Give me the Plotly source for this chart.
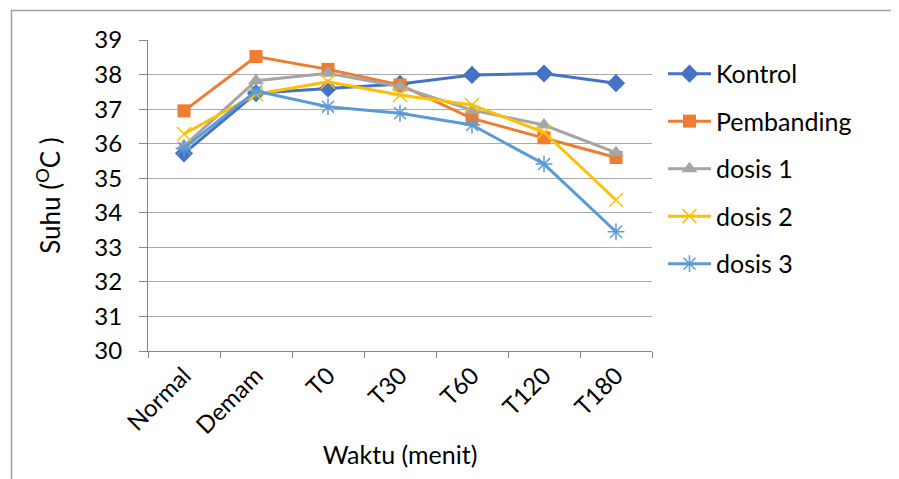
import plotly.graph_objects as go

categories = ["Normal", "Demam", "T0", "T30", "T60", "T120", "T180"]
kontrol = [35.72, 37.46, 37.6, 37.73, 37.99, 38.03, 37.75]
pembanding = [36.95, 38.52, 38.15, 37.7, 36.73, 36.17, 35.6]
dosis1 = [35.93, 37.82, 38.04, 37.65, 36.97, 36.54, 35.74]
dosis2 = [36.28, 37.43, 37.79, 37.41, 37.12, 36.33, 34.37]
dosis3 = [35.87, 37.52, 37.07, 36.88, 36.54, 35.41, 33.45]
y_ticks = list(range(30, 40))

series = [
    ("Kontrol", kontrol, "#4472C4", dict(symbol="diamond", size=14)),
    ("Pembanding", pembanding, "#ED7D31", dict(symbol="square", size=13)),
    ("dosis 1", dosis1, "#A5A5A5", dict(symbol="triangle-up", size=14)),
    ("dosis 2", dosis2, "#FFC000", dict(symbol="x-thin-open", size=14, line=dict(width=1.5, color="#FFC000"))),
    ("dosis 3", dosis3, "#5B9BD5", dict(symbol="asterisk-open", size=14, line=dict(width=1.5, color="#5B9BD5"))),
]

fig = go.Figure()
for name, vals, col, mk in series:
    m = dict(color=col, **mk)
    fig.add_trace(go.Scatter(x=categories, y=vals, name=name, mode="lines+markers",
                             line=dict(color=col, width=3), marker=m, legendgroup=name))

font = "Lato, Carlito, 'Open Sans', sans-serif"
# page body has an 8px offset; margins compensate so the plot area sits at x 148-652, y 40-351
fig.update_layout(
    width=899, height=479,
    margin=dict(l=140, r=255, t=32, b=136),
    paper_bgcolor="white", plot_bgcolor="white",
    font=dict(family=font, size=24, color="#000000"),
    showlegend=True,
    legend=dict(x=(663-148)/504, y=0.965, xanchor="left", yanchor="top",
                font=dict(size=25, family=font), tracegroupgap=12,
                itemwidth=43, bgcolor="rgba(0,0,0,0)"),
    xaxis=dict(type="category", range=[-0.5, 6.5], tickson="boundaries",
               ticks="outside", ticklen=6, tickcolor="#868686",
               showline=True, linecolor="#868686", linewidth=1.2,
               showgrid=False, tickangle=-45,
               tickfont=dict(size=24),
               title=dict(text="Waktu (menit)", font=dict(size=25), standoff=8)),
    yaxis=dict(range=[30, 39], tickvals=y_ticks, ticks="outside", ticklen=8,
               tickcolor="#868686", showline=True, linecolor="#868686", linewidth=1.2,
               showgrid=True, gridcolor="#ABABAB", gridwidth=1.2, zeroline=False,
               tickfont=dict(size=24), ticklabelstandoff=12,
               title=dict(text="Suhu (<sup>O</sup>C )", font=dict(size=26), standoff=26)),
)

border = "#A0A0A0"
fig.add_shape(type="line", xref="paper", yref="paper", x0=(11-148)/504, x1=(899-148)/504,
              y0=1+(40-10.5)/311, y1=1+(40-10.5)/311, line=dict(color=border, width=1.5))
fig.add_shape(type="line", xref="paper", yref="paper", x0=(11.5-148)/504, x1=(11.5-148)/504,
              y0=1+(40-10)/311, y1=-(479-351)/311, line=dict(color=border, width=1.5))

fig.write_html("out.html")
